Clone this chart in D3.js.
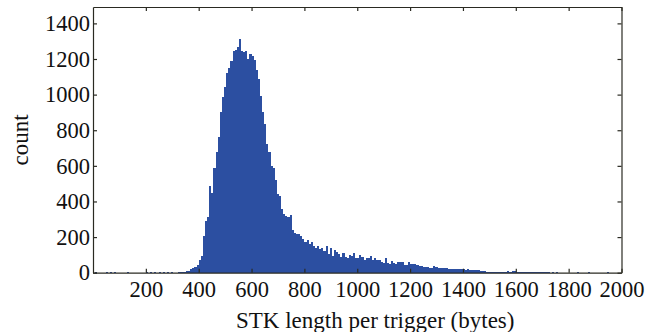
<!DOCTYPE html>
<html>
<head>
<meta charset="utf-8">
<script src="https://cdn.jsdelivr.net/npm/d3@7"></script>
<style>
  body { margin: 0; background: #fff; }
  svg text { font-family: "Liberation Serif", "Times New Roman", serif; }
</style>
</head>
<body>
<svg id="chart"></svg>
<script>
// Histogram data
const binWidth = 8;
const mainStart = 320;
const mainCounts = [
    3, 4, 5, 6, 8, 12, 18, 24, 32, 45,
    70, 95, 205, 290, 310, 485, 450, 590, 680, 760,
    900, 985, 1040, 1120, 1150, 1190, 1245, 1250, 1265, 1310,
    1245, 1240, 1245, 1200, 1230, 1215, 1195, 1140, 1090, 990,
    900, 835, 725, 680, 600, 590, 520, 440, 430, 355,
    330, 320, 310, 325, 240, 225, 220, 218, 205, 190,
    170, 182, 160, 170, 148, 140, 150, 135, 140, 120,
    150, 105, 140, 95, 125, 115, 105, 90, 110, 88,
    82, 100, 95, 108, 85, 80, 98, 90, 72, 80,
    85, 96, 72, 80, 70, 72, 58, 55, 80, 52,
    50, 68, 54, 50, 60, 62, 58, 44, 42, 60,
    50, 48, 47, 45, 38, 36, 32, 30, 30, 29,
    28, 40, 32, 26, 25, 27, 24, 25, 22, 21,
    20, 22, 19, 20, 18, 19, 17, 18, 16, 14,
    15, 13, 14, 10, 8, 7, 6, 6, 5, 5,
    4, 5, 4, 3, 4, 5, 8, 6, 9, 7,
    6, 5, 3, 4, 5, 3, 2, 4, 3, 2,
    5, 4, 2, 3, 2, 3, 1, 2
];
// isolated small bins outside the main bump: [lower edge, count]
const sparseBins = [
    [8, 2], [48, 3], [64, 2], [80, 3], [128, 2], [200, 4], [216, 2],
    [232, 3], [248, 2], [264, 3], [280, 2], [296, 3],
    [1752, 2], [1832, 2], [1872, 2], [1944, 3]
];
const xTicks = [200, 400, 600, 800, 1000, 1200, 1400, 1600, 1800, 2000];
const yTicks = [0, 200, 400, 600, 800, 1000, 1200, 1400];

const width = 661;
const height = 332;
const margin = { top: 7, right: 39.5, bottom: 59.3, left: 93 };
const innerW = width - margin.left - margin.right;
const innerH = height - margin.top - margin.bottom;

const bins = mainCounts.map((c, i) => ({ x0: mainStart + i * binWidth, count: c }))
    .concat(sparseBins.map(d => ({ x0: d[0], count: d[1] })));

const svg = d3.select("#chart")
    .attr("width", width)
    .attr("height", height);

const g = svg.append("g")
    .attr("transform", `translate(${margin.left}, ${margin.top})`);

const x = d3.scaleLinear().domain([0, 2000]).range([0, innerW]);
const y = d3.scaleLinear().domain([0, 1492]).range([innerH, 0]);
const fmt = d3.format("d");

// bars
g.selectAll("rect.bin")
    .data(bins)
    .enter()
    .append("rect")
    .attr("class", "bin")
    .attr("x", d => x(d.x0))
    .attr("width", d => x(d.x0 + binWidth) - x(d.x0))
    .attr("y", d => y(d.count))
    .attr("height", d => innerH - y(d.count))
    .attr("fill", "#2c4fa1")
    .style("shape-rendering", "crispEdges");

// axes, ticks point inward
const axisColor = "#2a2a22";
function styleAxis(sel) {
    sel.select(".domain").attr("stroke", axisColor).attr("stroke-width", 1.2);
    sel.selectAll(".tick line").attr("stroke", axisColor).attr("stroke-width", 1.2);
    sel.selectAll(".tick text")
        .style("font-size", "22.5px")
        .attr("fill", "#111");
}

g.append("g")
    .attr("transform", `translate(0, ${innerH})`)
    .call(d3.axisBottom(x).tickValues(xTicks).tickFormat(fmt).tickSizeInner(-4).tickSizeOuter(0).tickPadding(8))
    .attr("font-family", null)
    .call(styleAxis);

g.append("g")
    .call(d3.axisTop(x).tickValues(xTicks).tickSizeInner(-4).tickSizeOuter(0).tickFormat(""))
    .call(styleAxis);

g.append("g")
    .call(d3.axisLeft(y).tickValues(yTicks).tickFormat(fmt).tickSizeInner(-4).tickSizeOuter(0).tickPadding(3))
    .attr("font-family", null)
    .call(styleAxis);

g.append("g")
    .attr("transform", `translate(${innerW}, 0)`)
    .call(d3.axisRight(y).tickValues(yTicks).tickSizeInner(-4).tickSizeOuter(0).tickFormat(""))
    .call(styleAxis);

// axis titles
svg.append("text")
    .attr("x", margin.left + innerW / 2 + 18)
    .attr("y", 328)
    .attr("text-anchor", "middle")
    .style("font-size", "23px")
    .style("fill", "#111")
    .text("STK length per trigger (bytes)");

svg.append("text")
    .attr("transform", `translate(28, ${margin.top + innerH / 2}) rotate(-90)`)
    .attr("text-anchor", "middle")
    .style("font-size", "23px")
    .style("fill", "#111")
    .text("count");
</script>
</body>
</html>
